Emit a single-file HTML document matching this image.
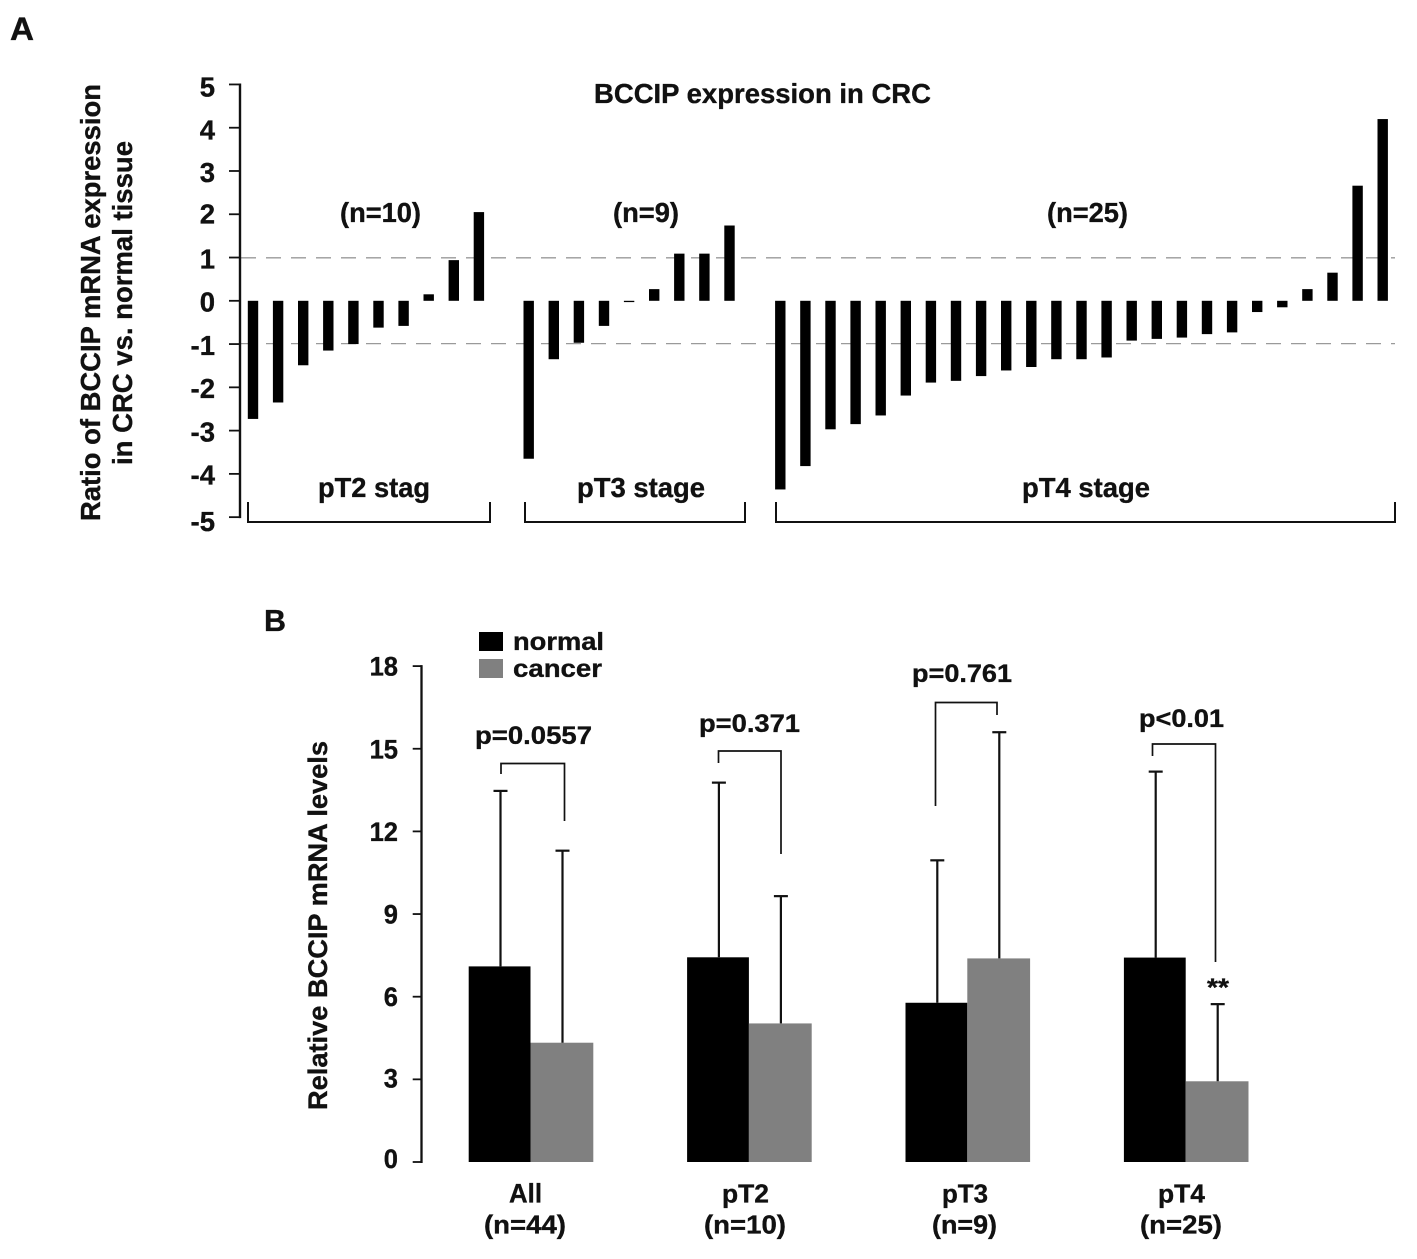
<!DOCTYPE html>
<html lang="en">
<head>
<meta charset="utf-8">
<title>BCCIP expression in CRC</title>
<style>
html,body{margin:0;padding:0;background:#fff;width:1417px;height:1259px;overflow:hidden}
svg{display:block}
text{font-family:"Liberation Sans",Arial,sans-serif;font-weight:bold;fill:#111;stroke:#111;stroke-width:.35px}
</style>
</head>
<body>
<svg id="figure" xmlns="http://www.w3.org/2000/svg" width="1417" height="1259" viewBox="0 0 1417 1259">
  <rect x="0" y="0" width="1417" height="1259" fill="#fff"/>

  <text x="10" y="40" font-size="32" textLength="24" lengthAdjust="spacingAndGlyphs">A</text>
  <text x="264" y="631" font-size="31" textLength="22" lengthAdjust="spacingAndGlyphs">B</text>

  <!-- Panel A static -->
  <g id="panel-a">
    <text x="594" y="103" font-size="27.5" textLength="337" lengthAdjust="spacingAndGlyphs">BCCIP expression in CRC</text>
    <text transform="translate(100,521) rotate(-90)" font-size="28" textLength="437" lengthAdjust="spacingAndGlyphs">Ratio of BCCIP mRNA expression</text>
    <text transform="translate(132,465) rotate(-90)" font-size="28" textLength="324" lengthAdjust="spacingAndGlyphs">in CRC vs. normal tissue</text>

    <line x1="241" y1="257.8" x2="1395" y2="257.8" stroke="#9a9a9a" stroke-width="1.3" stroke-dasharray="15 10"/>
    <line x1="241" y1="343.6" x2="1395" y2="343.6" stroke="#9a9a9a" stroke-width="1.3" stroke-dasharray="15 10"/>

    <g id="a-bars"></g>
    <g id="a-axis"></g>

    <text x="340" y="222" font-size="27.5" textLength="81" lengthAdjust="spacingAndGlyphs">(n=10)</text>
    <text x="613" y="222" font-size="27.5" textLength="66" lengthAdjust="spacingAndGlyphs">(n=9)</text>
    <text x="1047" y="222" font-size="27.5" textLength="81" lengthAdjust="spacingAndGlyphs">(n=25)</text>

    <text x="318" y="497" font-size="27.5" textLength="112" lengthAdjust="spacingAndGlyphs">pT2 stag</text>
    <text x="577" y="497" font-size="27.5" textLength="128" lengthAdjust="spacingAndGlyphs">pT3 stage</text>
    <text x="1022" y="497" font-size="27.5" textLength="128" lengthAdjust="spacingAndGlyphs">pT4 stage</text>

    <path d="M248 502V522H490V502" fill="none" stroke="#111" stroke-width="2"/>
    <path d="M525 502V522H745V502" fill="none" stroke="#111" stroke-width="2"/>
    <path d="M776 502V522H1395V502" fill="none" stroke="#111" stroke-width="2"/>
  </g>

  <!-- Panel B static -->
  <g id="panel-b">
    <text transform="translate(327,1110) rotate(-90)" font-size="27" textLength="369" lengthAdjust="spacingAndGlyphs">Relative BCCIP mRNA levels</text>

    <g>
      <rect x="479" y="632" width="24" height="19" fill="#000"/>
      <text x="513" y="650" font-size="25" textLength="91" lengthAdjust="spacingAndGlyphs">normal</text>
      <rect x="479" y="659" width="24" height="19" fill="#808080"/>
      <text x="513" y="677" font-size="25" textLength="89" lengthAdjust="spacingAndGlyphs">cancer</text>
    </g>

    <g id="b-bars"></g>
    <g id="b-axis"></g>

    <text x="475" y="744" font-size="25" textLength="117" lengthAdjust="spacingAndGlyphs">p=0.0557</text>
    <text x="699" y="732" font-size="25" textLength="101" lengthAdjust="spacingAndGlyphs">p=0.371</text>
    <text x="912" y="682" font-size="25" textLength="100" lengthAdjust="spacingAndGlyphs">p=0.761</text>
    <text x="1139" y="727" font-size="25" textLength="85" lengthAdjust="spacingAndGlyphs">p&lt;0.01</text>

    <path d="M501 774V763.5H564.5V821" fill="none" stroke="#111" stroke-width="1.7"/>
    <path d="M718.5 763V751H781V854" fill="none" stroke="#111" stroke-width="1.7"/>
    <path d="M935.5 806V702.5H997V715" fill="none" stroke="#111" stroke-width="1.7"/>
    <path d="M1152.5 756V744H1215.5V962" fill="none" stroke="#111" stroke-width="1.7"/>

    <text x="1207" y="996" font-size="25" textLength="22" lengthAdjust="spacingAndGlyphs">**</text>

    <text x="509" y="1202.5" font-size="27" textLength="33" lengthAdjust="spacingAndGlyphs">All</text>
    <text x="484" y="1233.5" font-size="26" textLength="82" lengthAdjust="spacingAndGlyphs">(n=44)</text>
    <text x="722" y="1202.5" font-size="26" textLength="47" lengthAdjust="spacingAndGlyphs">pT2</text>
    <text x="704" y="1233.5" font-size="26" textLength="82" lengthAdjust="spacingAndGlyphs">(n=10)</text>
    <text x="942" y="1202.5" font-size="26" textLength="46" lengthAdjust="spacingAndGlyphs">pT3</text>
    <text x="932" y="1233.5" font-size="26" textLength="65" lengthAdjust="spacingAndGlyphs">(n=9)</text>
    <text x="1158" y="1202.5" font-size="26" textLength="47" lengthAdjust="spacingAndGlyphs">pT4</text>
    <text x="1140" y="1233.5" font-size="26" textLength="82" lengthAdjust="spacingAndGlyphs">(n=25)</text>
  </g>
</svg>

<script>
// Panel A data
const pT2Ratios = [-2.73, -2.35, -1.49, -1.15, -1.0, -0.62, -0.58, 0.15, 0.94, 2.05];
const pT3Ratios = [-3.65, -1.35, -0.97, -0.58, -0.03, 0.27, 1.09, 1.09, 1.74];
const pT4Ratios = [-4.36, -3.82, -2.97, -2.85, -2.65, -2.19, -1.89, -1.85, -1.74, -1.61, -1.53, -1.35, -1.35, -1.31, -0.92, -0.88, -0.85, -0.77, -0.73, -0.26, -0.15, 0.27, 0.65, 2.66, 4.2];
const panelATicks = [5, 4, 3, 2, 1, 0, -1, -2, -3, -4, -5];

// Panel B data
const categories = ["All", "pT2", "pT3", "pT4"];
const normalMeans = [7.1, 7.43, 5.78, 7.42];
const cancerMeans = [4.33, 5.03, 7.39, 2.93];
const normalErrorTops = [13.47, 13.77, 10.95, 14.17];
const cancerErrorTops = [11.3, 9.65, 15.6, 5.73];
const panelBTicks = [18, 15, 12, 9, 6, 3, 0];

const SVG_NS = "http://www.w3.org/2000/svg";
function mk(tag, attrs, parent) {
  const el = document.createElementNS(SVG_NS, tag);
  for (const k in attrs) el.setAttribute(k, attrs[k]);
  parent.appendChild(el);
  return el;
}

// Panel A axis functions
function yA(v) { return 300.8 - 43.27 * v; }
function xA(groupStart, i) { return groupStart + 25.1 * i; }

const aBars = document.getElementById("a-bars");
const aAxis = document.getElementById("a-axis");

function drawGroup(values, groupStart, name) {
  values.forEach(function (v, i) {
    const top = Math.min(yA(v), yA(0));
    const h = Math.max(Math.abs(yA(v) - yA(0)), 1);
    const bar = mk("rect", { x: xA(groupStart, i) - 5.2, y: top, width: 10.4, height: h, fill: "#000" }, aBars);
    
    
    bar.setAttribute('data-group', name);
  });
}
drawGroup(pT2Ratios, 253, "pT2");
drawGroup(pT3Ratios, 528.7, "pT3");
drawGroup(pT4Ratios, 780.3, "pT4");

const aLine = mk("line", { x1: 240, y1: yA(5) - 1, x2: 240, y2: yA(-5) + 1, stroke: "#111", "stroke-width": 2.4 }, aAxis);



function labelOffsetA(t) {
  if (t === 5 || t === 4) return 12;
  if (t === 2) return 9;
  if (t === -5) return 14;
  return 10.8;
}

panelATicks.forEach(function (t) {
  const tick = mk("line", { x1: 229, y1: yA(t), x2: 240, y2: yA(t), stroke: "#111", "stroke-width": 1.8 }, aAxis);
  
  
  const label = mk("text", { x: 215, y: yA(t) + labelOffsetA(t), "text-anchor": "end", "font-size": 27.5 }, aAxis);
  label.textContent = String(t);
  
  
});

// Panel B axis functions
function yB(v) { return 1162 - 27.55 * v; }
function xB(i) { return 530.5 + 218.4 * i; }

const bBars = document.getElementById("b-bars");
const bAxis = document.getElementById("b-axis");
const NORMAL_W = 61.8;
const CANCER_W = 62.8;

function drawError(cx, from, to, capHalf, name) {
  const stem = mk("line", { x1: cx, y1: yB(from), x2: cx, y2: yB(to), stroke: "#111", "stroke-width": 2.2 }, bBars);
  
  
  const cap = mk("line", { x1: cx - capHalf, y1: yB(to), x2: cx + capHalf, y2: yB(to), stroke: "#111", "stroke-width": 2.2 }, bBars);
  
  
}

categories.forEach(function (c, i) {
  const nb = mk("rect", { x: xB(i) - NORMAL_W, y: yB(normalMeans[i]), width: NORMAL_W, height: yB(0) - yB(normalMeans[i]), fill: "#000" }, bBars);
  
  
  nb.setAttribute('data-category', c);
  const cb = mk("rect", { x: xB(i), y: yB(cancerMeans[i]), width: CANCER_W, height: yB(0) - yB(cancerMeans[i]), fill: "#808080" }, bBars);
  
  
  cb.setAttribute('data-category', c);
  drawError(xB(i) - 30, normalMeans[i], normalErrorTops[i], 7, "normal");
  drawError(xB(i) + 32, cancerMeans[i], cancerErrorTops[i], 7, "cancer");
});

const bLine = mk("line", { x1: 421.5, y1: yB(18) - 1, x2: 421.5, y2: yB(0) + 1, stroke: "#111", "stroke-width": 2.3 }, bAxis);



function labelOffsetB(t) {
  if (t === 0) return 6;
  if (t === 3) return 8;
  return 9.5;
}

panelBTicks.forEach(function (t) {
  const tick = mk("line", { x1: 412.7, y1: yB(t), x2: 421.5, y2: yB(t), stroke: "#111", "stroke-width": 1.8 }, bAxis);
  
  
  const label = mk("text", { x: 398, y: yB(t) + labelOffsetB(t), "text-anchor": "end", "font-size": 27, textLength: 14.2 * String(t).length, lengthAdjust: "spacingAndGlyphs" }, bAxis);
  label.textContent = String(t);
  
  
});
</script>
</body>
</html>
